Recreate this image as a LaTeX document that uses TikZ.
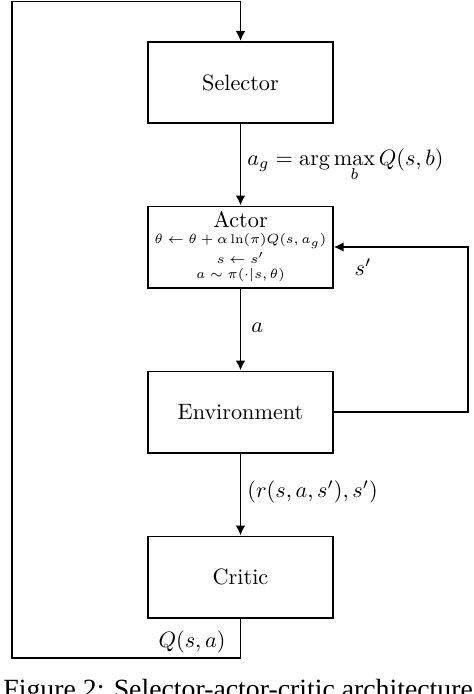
\documentclass[tikz,border=0pt]{standalone}
\usepackage{fontspec}
\newfontfamily\capfont{Liberation Serif}
\usetikzlibrary{arrows.meta}
\begin{document}
\begin{tikzpicture}[x=0.45pt,y=-0.45pt,
  box/.style={draw,line width=0.85pt,minimum width=83pt,minimum height=36.5pt,inner sep=0pt},
  conn/.style={line width=0.85pt},
  arr/.style={conn,-{Latex[length=4.5pt,width=4.4pt]}},
  lbl/.style={inner sep=0pt},
  small/.style={lbl,font=\fontsize{5.7}{6.5}\selectfont}]
\clip (0,0) rectangle (474,694);
\useasboundingbox (0,0) rectangle (474,694);
\node[box] (sel) at (240.5,82.5) {Selector};
\node[box] (act) at (240.5,247) {};
\node[box] (env) at (240.5,412) {Environment};
\node[box] (cri) at (240.5,577) {Critic};
\node[lbl] (actT) at (240.5,219.5) {Actor};
\node[small] (act1) at (240.5,241) {$\theta \leftarrow \theta + \alpha\ln(\pi)Q(s,a_g)$};
\node[small] (act2) at (240.5,258) {$s \leftarrow s'$};
\node[small] (act3) at (240.5,275) {$a \sim \pi(\cdot|s,\theta)$};
\coordinate (c1) at (240.5,658);
\coordinate (c2) at (12,658);
\coordinate (c3) at (12,1.5);
\coordinate (c4) at (240.5,1.5);
\coordinate (r1) at (468,412);
\coordinate (r2) at (468,247);
\draw[arr] (sel.south) -- (act.north);
\draw[arr] (act.south) -- (env.north);
\draw[arr] (env.south) -- (cri.north);
\draw[arr] (cri.south) -- (c1) -- (c2) -- (c3) -- (c4) -- (sel.north);
\draw[arr] (env.east) -- (r1) -- (r2) -- (act.east);
\node[lbl,anchor=base west] (lg) at (247,165) {$a_g = \arg\max\limits_b Q(s,b)$};
\node[lbl,anchor=west] (la) at (251,328) {$a$};
\node[lbl] (ls) at (363,267) {$s'$};
\node[lbl,anchor=west] (lr) at (247,492) {$(r(s,a,s'),s')$};
\node[lbl] (lq) at (192,642) {$Q(s,a)$};
\node[lbl,anchor=base west,font=\capfont\fontsize{12.5}{14}\selectfont] (cap) at (3,698) {Figure 2: Selector-actor-critic architecture};
\end{tikzpicture}
\end{document}
